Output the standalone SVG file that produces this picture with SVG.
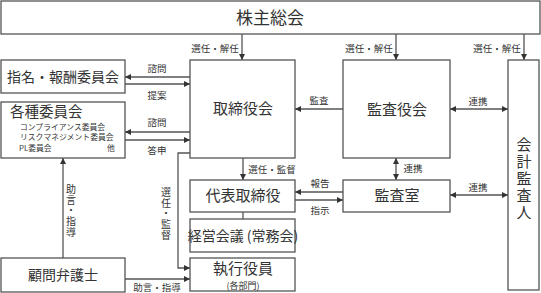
<svg xmlns="http://www.w3.org/2000/svg" width="541" height="293" viewBox="0 0 541 293">
<style>
.box{fill:#fff;stroke:#555;stroke-width:1.3}
.ln{fill:none;stroke:#555;stroke-width:1.3}
.arr{marker-end:url(#ah)}
.bi{marker-end:url(#ah);marker-start:url(#ah)}
text{font-family:"Noto Sans CJK JP","Noto Sans",sans-serif;fill:#333}
.t17{font-size:17px;text-anchor:middle}
.t15{font-size:15px;text-anchor:middle}
.t14{font-size:14px;text-anchor:middle}
.lb{font-size:9.5px;text-anchor:middle}
.sm{font-size:7.8px}
.vt{writing-mode:vertical-rl;font-size:10px;letter-spacing:0.8px}
.vb{writing-mode:vertical-rl;font-size:15px;letter-spacing:2px}
</style>
<defs>
<marker id="ah" viewBox="0 0 6 6" refX="6" refY="3" markerWidth="6" markerHeight="6" markerUnits="userSpaceOnUse" orient="auto-start-reverse">
<path d="M0,0 L6,3 L0,6 z" fill="#333"/>
</marker>
</defs>
<rect width="541" height="293" fill="#fff"/>

<g id="connectors">
<line class="ln arr" x1="242" y1="34" x2="242" y2="60"/>
<line class="ln arr" x1="396" y1="34" x2="396" y2="60"/>
<line class="ln arr" x1="524" y1="34" x2="524" y2="60"/>
<line class="ln arr" x1="190" y1="77" x2="125" y2="77"/>
<line class="ln arr" x1="125" y1="84" x2="190" y2="84"/>
<line class="ln arr" x1="190" y1="132" x2="125" y2="132"/>
<line class="ln arr" x1="125" y1="140" x2="190" y2="140"/>
<line class="ln arr" x1="343" y1="109" x2="295" y2="109"/>
<line class="ln bi" x1="450" y1="109" x2="508" y2="109"/>
<line class="ln bi" x1="396" y1="158" x2="396" y2="180"/>
<line class="ln bi" x1="450" y1="195" x2="508" y2="195"/>
<line class="ln arr" x1="343" y1="192" x2="295" y2="192"/>
<line class="ln arr" x1="295" y1="200" x2="343" y2="200"/>
<line class="ln arr" x1="243" y1="158" x2="243" y2="180"/>
<line class="ln" x1="243" y1="212" x2="243" y2="219"/>
<polyline class="ln arr" points="190,153 178,153 178,268 190,268"/>
<line class="ln arr" x1="63" y1="258" x2="63" y2="158"/>
<line class="ln arr" x1="125" y1="279" x2="190" y2="279"/>
</g>

<g id="labels">
<text class="lb" x="215" y="52">選任・解任</text>
<text class="lb" x="369" y="52">選任・解任</text>
<text class="lb" x="497" y="52">選任・解任</text>
<text class="lb" x="157" y="72">諮問</text>
<text class="lb" x="157" y="99">提案</text>
<text class="lb" x="157" y="126">諮問</text>
<text class="lb" x="157" y="154">答申</text>
<text class="lb" x="319" y="104">監査</text>
<text class="lb" x="478" y="105">連携</text>
<text class="lb" x="478" y="191">連携</text>
<text class="lb" x="413" y="172">連携</text>
<text class="lb" x="320" y="187">報告</text>
<text class="lb" x="320" y="214">指示</text>
<text class="lb" x="272" y="173">選任・監督</text>
<text class="lb" x="157" y="291">助言・指導</text>
<text class="vt" x="166" y="187">選任・監督</text>
<text class="vt" x="71" y="184">助言・指導</text>
</g>

<g id="shareholders">
<rect class="box" x="1" y="1" width="539" height="33"/>
<text class="t17" x="270" y="24">株主総会</text>
</g>
<g id="nomination">
<rect class="box" x="1" y="60" width="124" height="33"/>
<text class="t14" x="63" y="82">指名・報酬委員会</text>
</g>
<g id="committees">
<rect class="box" x="1" y="102" width="124" height="56"/>
<text x="10" y="117" style="font-size:14.5px">各種委員会</text>
<text class="sm" x="20" y="130">コンプライアンス委員会</text>
<text class="sm" x="20" y="140">リスクマネジメント委員会</text>
<text class="sm" x="19" y="151">PL委員会</text>
<text class="sm" x="107" y="151">他</text>
</g>
<g id="board">
<rect class="box" x="190" y="60" width="105" height="98"/>
<text class="t15" x="243" y="114">取締役会</text>
</g>
<g id="auditboard">
<rect class="box" x="343" y="60" width="107" height="98"/>
<text class="t15" x="397" y="115">監査役会</text>
</g>
<g id="auditor">
<rect class="box" x="508" y="60" width="31" height="230"/>
<text class="vb" x="524" y="137">会計監査人</text>
</g>
<g id="representative">
<rect class="box" x="190" y="180" width="105" height="32"/>
<text class="t15" x="243" y="201">代表取締役</text>
</g>
<g id="auditoffice">
<rect class="box" x="343" y="180" width="107" height="32"/>
<text class="t15" x="397" y="201">監査室</text>
</g>
<g id="management">
<rect class="box" x="190" y="219" width="105" height="33"/>
<text class="t14" x="243" y="241">経営会議 (常務会)</text>
</g>
<g id="officers">
<rect class="box" x="190" y="258" width="105" height="33"/>
<text class="t15" x="243" y="274">執行役員</text>
<text x="243" y="289" style="font-size:9px;text-anchor:middle">(各部門)</text>
</g>
<g id="lawyer">
<rect class="box" x="1" y="258" width="124" height="34"/>
<text class="t14" x="63" y="280">顧問弁護士</text>
</g>
</svg>
